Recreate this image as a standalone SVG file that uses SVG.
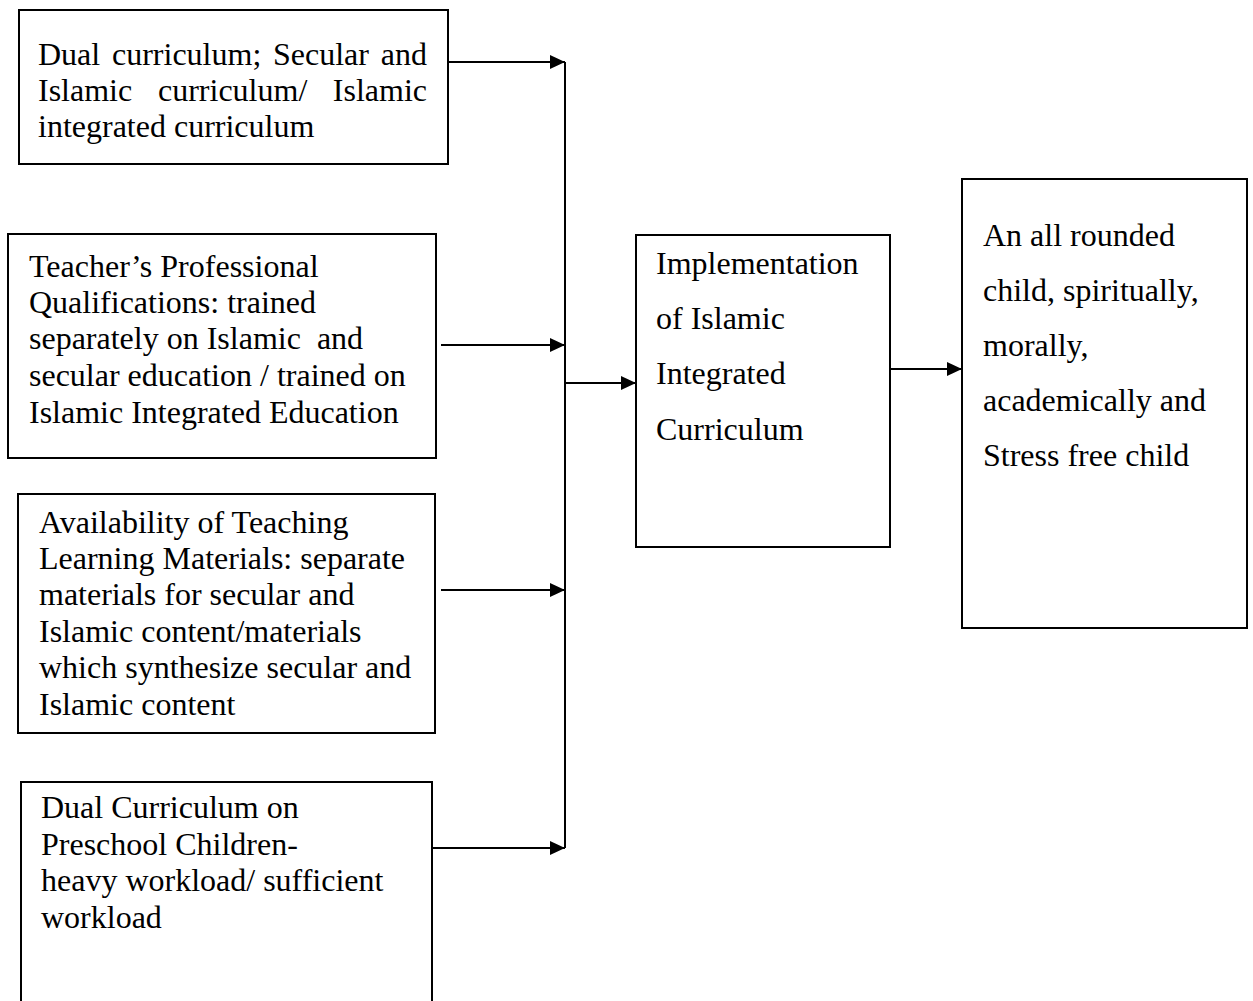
<svg xmlns="http://www.w3.org/2000/svg" width="1253" height="1001" viewBox="0 0 1253 1001">
<style>
.box{fill:#fff;stroke:#000;stroke-width:2}
.t{font-family:"Liberation Serif","Times New Roman",serif;font-size:32px;fill:#000}
.c{stroke:#000;stroke-width:2;fill:none}
</style>
<defs>
<marker id="ah" markerUnits="userSpaceOnUse" markerWidth="16" markerHeight="14" refX="15" refY="7" orient="auto">
<path d="M0,0 L15,7 L0,14 Z" fill="#000"/>
</marker>
</defs>
<rect width="1253" height="1001" fill="#fff"/>
<g id="connectors">
<line class="c" x1="565" y1="62" x2="565" y2="848"/>
<line class="c" x1="448" y1="62" x2="565" y2="62" marker-end="url(#ah)"/>
<line class="c" x1="441" y1="345" x2="565" y2="345" marker-end="url(#ah)"/>
<line class="c" x1="441" y1="590" x2="565" y2="590" marker-end="url(#ah)"/>
<line class="c" x1="432" y1="848" x2="565" y2="848" marker-end="url(#ah)"/>
<line class="c" x1="565" y1="383" x2="636" y2="383" marker-end="url(#ah)"/>
<line class="c" x1="890" y1="369" x2="962" y2="369" marker-end="url(#ah)"/>
</g>
<g id="node1">
<rect class="box" x="19" y="10" width="429" height="154"/>
<text class="t" y="65"><tspan x="38">Dual</tspan><tspan x="112">curriculum;</tspan><tspan x="273">Secular</tspan><tspan x="427" text-anchor="end">and</tspan></text>
<text class="t" y="101"><tspan x="38">Islamic</tspan><tspan x="158">curriculum/</tspan><tspan x="427" text-anchor="end">Islamic</tspan></text>
<text class="t" x="38" y="137">integrated curriculum</text>
</g>
<g id="node2">
<rect class="box" x="8" y="234" width="428" height="224"/>
<text class="t" x="29" y="277">Teacher’s Professional</text>
<text class="t" x="29" y="313">Qualifications: trained</text>
<text class="t" x="29" y="349" xml:space="preserve">separately on Islamic  and</text>
<text class="t" x="29" y="386">secular education / trained on</text>
<text class="t" x="29" y="423">Islamic Integrated Education</text>
</g>
<g id="node3">
<rect class="box" x="18" y="494" width="417" height="239"/>
<text class="t" x="39" y="533">Availability of Teaching</text>
<text class="t" x="39" y="569">Learning Materials: separate</text>
<text class="t" x="39" y="605">materials for secular and</text>
<text class="t" x="39" y="642">Islamic content/materials</text>
<text class="t" x="39" y="678">which synthesize secular and</text>
<text class="t" x="39" y="715">Islamic content</text>
</g>
<g id="node4">
<rect class="box" x="21" y="782" width="411" height="260"/>
<text class="t" x="41" y="818">Dual Curriculum on</text>
<text class="t" x="41" y="855">Preschool Children-</text>
<text class="t" x="41" y="891">heavy workload/ sufficient</text>
<text class="t" x="41" y="928">workload</text>
</g>
<g id="node5">
<rect class="box" x="636" y="235" width="254" height="312"/>
<text class="t" x="656" y="274">Implementation</text>
<text class="t" x="656" y="329">of Islamic</text>
<text class="t" x="656" y="384">Integrated</text>
<text class="t" x="656" y="440">Curriculum</text>
</g>
<g id="node6">
<rect class="box" x="962" y="179" width="285" height="449"/>
<text class="t" x="983" y="246">An all rounded</text>
<text class="t" x="983" y="301">child, spiritually,</text>
<text class="t" x="983" y="356">morally,</text>
<text class="t" x="983" y="411">academically and</text>
<text class="t" x="983" y="466">Stress free child</text>
</g>
</svg>
